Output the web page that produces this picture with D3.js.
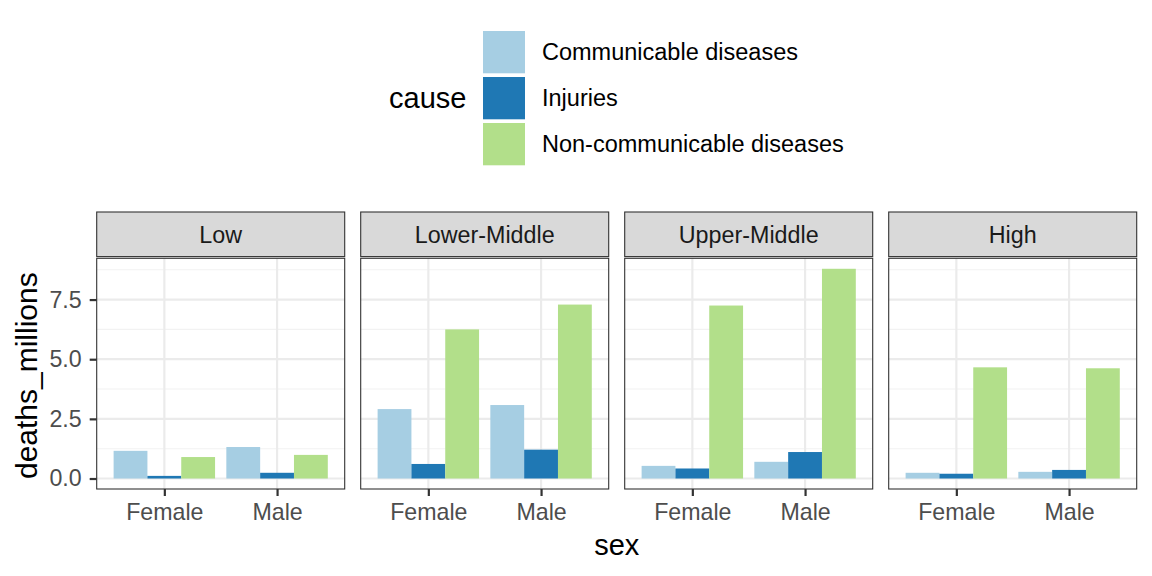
<!DOCTYPE html>
<html>
<head>
<meta charset="utf-8">
<script src="https://cdn.jsdelivr.net/npm/d3@7.9.0/dist/d3.min.js"></script>
<style>
  body { margin: 0; background: #fff; }
  svg { font-family: "Liberation Sans", Arial, Helvetica, sans-serif; }
</style>
</head>
<body>
<div id="chart"></div>
<script>
// data (millions of deaths)
const levels = ['Low', 'Lower-Middle', 'Upper-Middle', 'High'];
const sexes = ['Female', 'Male'];
const causes = ['Communicable diseases', 'Injuries', 'Non-communicable diseases'];
// one value per level x sex: Low F, Low M, Lower-Middle F, ... High M
const communicable = [1.16, 1.32, 2.91, 3.08, 0.53, 0.70, 0.24, 0.28];
const injuries = [0.11, 0.24, 0.61, 1.21, 0.42, 1.11, 0.20, 0.36];
const nonCommunicable = [0.90, 0.99, 6.25, 7.29, 7.25, 8.79, 4.66, 4.62];
const yTicks = [0, 2.5, 5, 7.5];
const yMinor = [1.25, 3.75, 6.25, 8.75];

const colors = ['#A6CEE3', '#1F78B4', '#B2DF8A'];

// build rows
const series = [communicable, injuries, nonCommunicable];
const rows = [];
levels.forEach((level, li) => {
  sexes.forEach((sex, si) => {
    causes.forEach((cause, ci) => {
      rows.push({ level, sex, cause, value: series[ci][li * 2 + si] });
    });
  });
});

const width = 1152;
const height = 576;
const panelTop = 258.3;
const panelBottom = 489;
const stripTop = 212;
const stripBottom = 256.6;

const svg = d3.select('#chart')
  .append('svg')
  .attr('width', width)
  .attr('height', height);

// facet positions
const facet = d3.scaleBand()
  .domain(levels)
  .range([96.7, 1136.7])
  .paddingInner(0.0606);
const pw = facet.bandwidth();

const maxVal = d3.max(rows, (d) => d.value);
const yScale = d3.scaleLinear()
  .domain([-0.05 * maxVal, maxVal * 1.05])
  .range([panelBottom, panelTop]);

const xScale = d3.scalePoint().domain(sexes).range([0, pw]).padding(0.6);
const step = xScale.step();
const dodge = d3.scaleBand().domain(causes).range([-0.45 * step, 0.45 * step]);

const color = d3.scaleOrdinal().domain(causes).range(colors);

levels.forEach((level) => {
  const g = svg.append('g').attr('transform', `translate(${facet(level)},0)`);

  // background
  g.append('rect')
    .attr('x', 0).attr('y', panelTop)
    .attr('width', pw).attr('height', panelBottom - panelTop)
    .attr('fill', '#fff');

  // minor grid
  g.selectAll('.minor').data(yMinor).join('line')
    .attr('x1', 0).attr('x2', pw)
    .attr('y1', (d) => yScale(d)).attr('y2', (d) => yScale(d))
    .attr('stroke', '#F2F2F2').attr('stroke-width', 1.1);

  // major grid
  g.selectAll('.major').data(yTicks).join('line')
    .attr('x1', 0).attr('x2', pw)
    .attr('y1', (d) => yScale(d)).attr('y2', (d) => yScale(d))
    .attr('stroke', '#EBEBEB').attr('stroke-width', 2.2);

  g.selectAll('.vmajor').data(sexes).join('line')
    .attr('x1', (d) => xScale(d)).attr('x2', (d) => xScale(d))
    .attr('y1', panelTop).attr('y2', panelBottom)
    .attr('stroke', '#EBEBEB').attr('stroke-width', 2.2);

  // bars
  g.selectAll('.bar')
    .data(rows.filter((d) => d.level === level))
    .join('rect')
    .attr('x', (d) => xScale(d.sex) + dodge(d.cause))
    .attr('width', dodge.bandwidth())
    .attr('y', (d) => yScale(d.value))
    .attr('height', (d) => yScale(0) - yScale(d.value))
    .attr('fill', (d) => color(d.cause));

  // panel border
  g.append('rect')
    .attr('x', 0).attr('y', panelTop)
    .attr('width', pw).attr('height', panelBottom - panelTop)
    .attr('fill', 'none').attr('stroke', '#333333').attr('stroke-width', 1.1);

  // strip
  g.append('rect')
    .attr('x', 0).attr('y', stripTop)
    .attr('width', pw).attr('height', stripBottom - stripTop)
    .attr('fill', '#D9D9D9').attr('stroke', '#333333').attr('stroke-width', 1.1);
  g.append('text')
    .attr('x', pw / 2).attr('y', (stripTop + stripBottom) / 2 + 8.3)
    .attr('text-anchor', 'middle')
    .attr('font-size', 23.3).attr('fill', '#1A1A1A')
    .text(level);

  // x axis
  const xAxis = g.append('g')
    .attr('transform', `translate(0,${panelBottom})`)
    .call(d3.axisBottom(xScale).tickSize(7).tickPadding(7.5));
  xAxis.select('.domain').remove();
  xAxis.selectAll('line').attr('stroke', '#333333').attr('stroke-width', 2.2);
  xAxis.selectAll('text')
    .attr('font-size', 23.2).attr('fill', '#4D4D4D')
    .attr('font-family', null);
});

// y axis on first panel
const yAxis = svg.append('g')
  .attr('transform', `translate(${facet(levels[0])},0)`)
  .call(d3.axisLeft(yScale).tickValues(yTicks).tickFormat(d3.format('.1f')).tickSize(7).tickPadding(8));
yAxis.select('.domain').remove();
yAxis.selectAll('line').attr('stroke', '#333333').attr('stroke-width', 2.2);
yAxis.selectAll('text')
  .attr('font-size', 23.2).attr('fill', '#4D4D4D')
  .attr('font-family', null);

// axis titles
svg.append('text')
  .attr('x', (facet(levels[0]) + facet(levels[3]) + pw) / 2)
  .attr('y', 555)
  .attr('text-anchor', 'middle')
  .attr('font-size', 29)
  .text('sex');

svg.append('text')
  .attr('transform', `translate(36.5,${(panelTop + panelBottom) / 2 + 2}) rotate(-90)`)
  .attr('text-anchor', 'middle')
  .attr('font-size', 30)
  .text('deaths_millions');

// legend
const legend = svg.append('g');
legend.append('text')
  .attr('x', 389).attr('y', 108)
  .attr('font-size', 29)
  .text('cause');

const keys = legend.selectAll('.key').data(causes).join('g')
  .attr('transform', (d, i) => `translate(483,${31 + i * 46})`);
keys.append('rect')
  .attr('width', 42).attr('height', 42.3)
  .attr('fill', (d) => color(d));
keys.append('text')
  .attr('x', 59).attr('y', 21 + 8.3)
  .attr('font-size', 23.5)
  .text((d) => d);
</script>
</body>
</html>
